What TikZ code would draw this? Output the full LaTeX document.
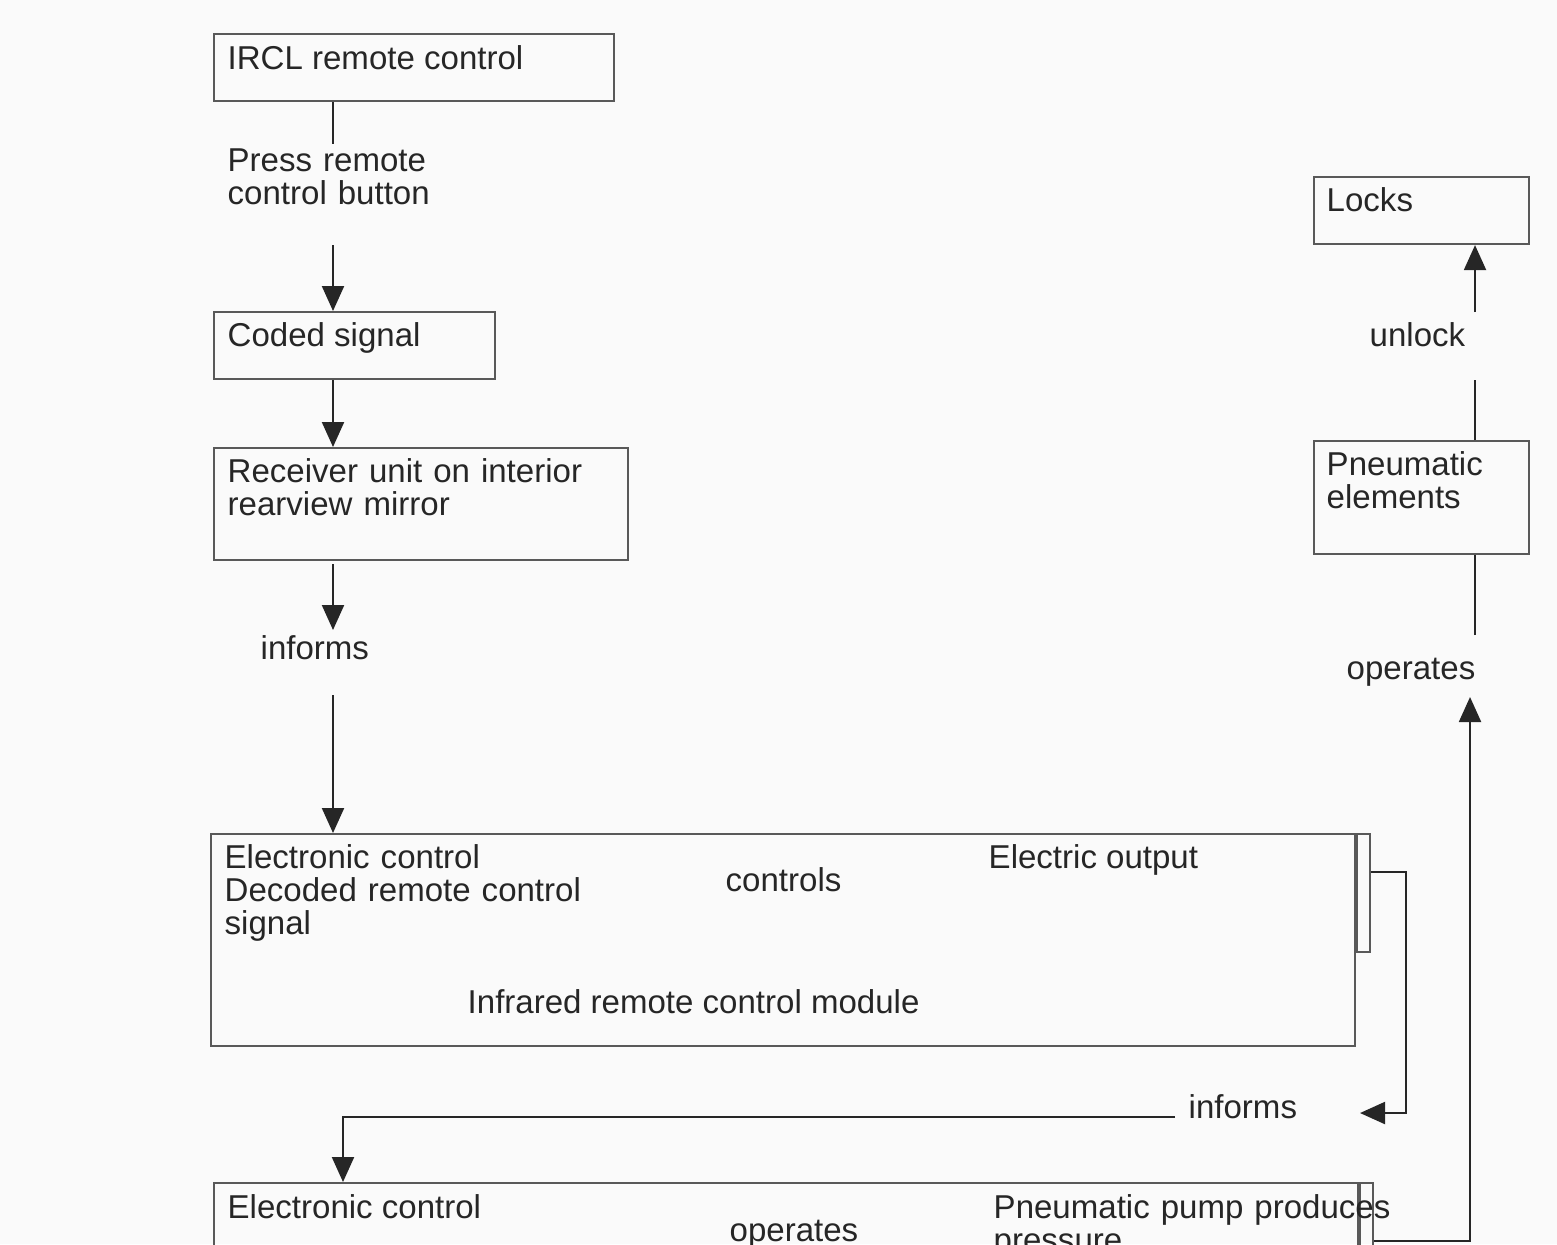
\documentclass[tikz,border=0pt]{standalone}
\usepackage{fontspec}
\setmainfont{Liberation Sans}
\usetikzlibrary{arrows.meta,calc}

\tikzset{
  box/.style={rectangle,draw=black!65,line width=0.6pt,anchor=north west,inner sep=0pt},
  txt/.style={anchor=base west,inner sep=0pt,text=black!85,font=\fontsize{9.4}{9.4}\selectfont},
  multi/.style={txt,text width=#1,align=left},
  link/.style={black!85,line width=0.6pt}
}

\begin{document}
\begin{tikzpicture}[>={Triangle[length=2.5mm,width=2.2mm]}]
    \fill[black!2,use as bounding box] (0,0) rectangle (15.57,-12.44);
    \clip (0,0) rectangle (15.57,-12.44);
    \coordinate (col) at (3.33,0);
    \coordinate (col2) at (3.43,0);
    \coordinate (pcol) at (14.75,0);

    % left column
    \node (remote) at (2.13,-0.33) [box,minimum width=4cm,minimum height=0.67cm]{};
    \node (remotetxt) at ($(remote.north west)+(0.14,-0.36)$) [txt]{IRCL remote control};
    \node (presstxt) at (2.27,-1.71) [multi=2.4cm]{Press remote\\control button};
    \node (coded) at (2.13,-3.11) [box,minimum width=2.81cm,minimum height=0.67cm]{};
    \node (codedtxt) at ($(coded.north west)+(0.14,-0.35)$) [txt]{Coded signal};
    \node (receiver) at (2.13,-4.47) [box,minimum width=4.14cm,minimum height=1.12cm]{};
    \node (receivertxt) at ($(receiver.north west)+(0.14,-0.35)$) [multi=3.9cm]{Receiver unit on interior\\rearview mirror};
    \node (informstxt) at (2.60,-6.59) [txt]{informs};

    % infrared module
    \node (module) at (2.10,-8.33) [box,minimum width=11.44cm,minimum height=2.12cm]{};
    \node (strip) at (module.north east) [box,minimum width=0.13cm,minimum height=1.18cm]{};
    \node (decodetxt) at ($(module.north west)+(0.14,-0.35)$) [multi=3.9cm]{Electronic control\\Decoded remote control\\signal};
    \node (controlstxt) at (7.25,-8.91) [txt]{controls};
    \node (outputtxt) at (9.88,-8.68) [txt]{Electric output};
    \node (moduletxt) at (4.67,-10.13) [txt]{Infrared remote control module};
    \node (informs2txt) at (11.88,-11.18) [txt]{informs};

    % pump
    \node (pump) at (2.13,-11.82) [box,minimum width=11.44cm,minimum height=1.2cm]{};
    \node (pumpstrip) at (pump.north east) [box,minimum width=0.13cm,minimum height=1.2cm]{};
    \node (pumpctrltxt) at ($(pump.north west)+(0.14,-0.36)$) [txt]{Electronic control};
    \node (operatestxt) at (7.29,-12.41) [txt]{operates};
    \node (pressuretxt) at (9.93,-12.18) [multi=4.3cm]{Pneumatic pump produces\\pressure};

    % right column
    \node (locks) at (13.13,-1.76) [box,minimum width=2.15cm,minimum height=0.67cm]{};
    \node (lockstxt) at ($(locks.north west)+(0.13,-0.35)$) [txt]{Locks};
    \node (unlocktxt) at (13.69,-3.46) [txt]{unlock};
    \node (pneu) at (13.13,-4.40) [box,minimum width=2.15cm,minimum height=1.13cm]{};
    \node (pneutxt) at ($(pneu.north west)+(0.13,-0.35)$) [multi=1.9cm]{Pneumatic\\elements};
    \node (opstxt) at (13.46,-6.79) [txt]{operates};
    \coordinate (backtip) at (13.60,-11.13);

    \draw[link] (remote.south -| col) -- ([yshift=0.04cm]presstxt.north -| col);
    \draw[link,->] ($(presstxt.south -| col)+(0,-0.40)$) -- (coded.north -| col);
    \draw[link,->] (coded.south -| col) -- (receiver.north -| col);
    \draw[link,->] ($(receiver.south -| col)+(0,-0.03)$) -- ($(informstxt.base -| col)+(0,0.29)$);
    \draw[link,->] ($(informstxt.base -| col)+(0,-0.36)$) -- (module.north -| col);

    \draw[link,->] ($(strip.north east)+(0,-0.39)$) -| ($(backtip)+(0.46,0)$) -- (backtip);
    \draw[link,->] ($(informs2txt.base west)+(-0.13,0.01)$) -| (pump.north -| col2);
    \draw[link,->] ($(pumpstrip.north east)+(0,-0.59)$) -| ($(opstxt.base -| pcol)+(-0.05,-0.18)$);
    \draw[link] ($(opstxt.base -| pcol)+(0,0.44)$) -- (pneu.south -| pcol);
    \draw[link] (pneu.north -| pcol) -- ($(unlocktxt.base -| pcol)+(0,-0.34)$);
    \draw[link,->] ($(unlocktxt.base -| pcol)+(0,0.34)$) -- (locks.south -| pcol);
\end{tikzpicture}
\end{document}
